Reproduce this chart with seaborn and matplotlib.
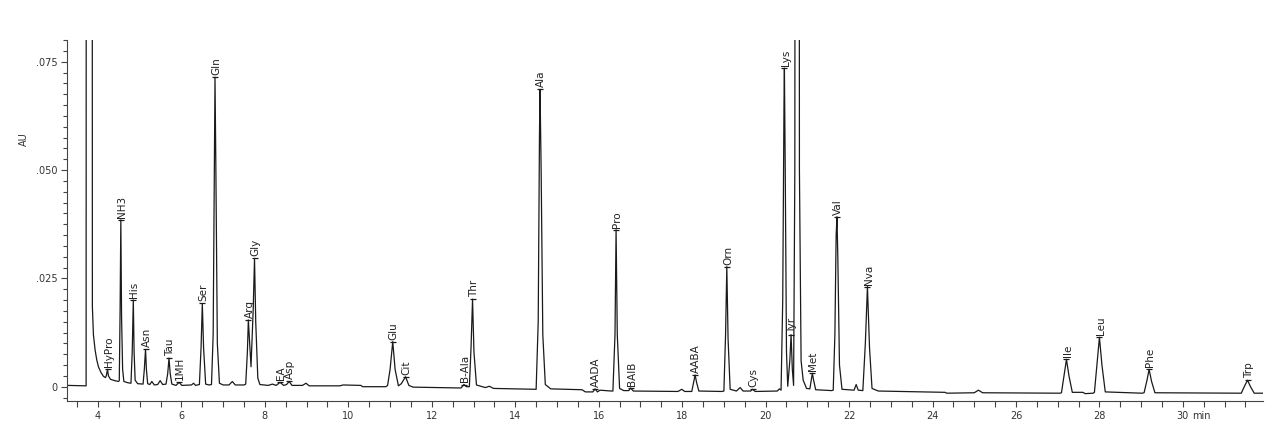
import matplotlib
matplotlib.use("Agg")
import matplotlib.pyplot as plt
import seaborn as sns
import pandas as pd
from matplotlib.ticker import MultipleLocator, FuncFormatter

# Chromatogram trace (time in min, absorbance in AU)
time_min = [
    3.26, 3.70, 3.715, 3.725, 3.855, 3.865, 3.89, 3.93, 3.97, 4.01, 4.07, 4.13, 4.18,
    4.20, 4.228, 4.25, 4.30, 4.40, 4.49,
    4.51, 4.53, 4.547, 4.565, 4.59, 4.62, 4.72,
    4.79, 4.82, 4.846, 4.865, 4.89, 4.95, 5.08,
    5.11, 5.139, 5.16, 5.19, 5.24, 5.29, 5.35, 5.43, 5.49, 5.55, 5.63,
    5.67, 5.702, 5.73, 5.77, 5.87,
    5.942, 6.01, 6.24, 6.29, 6.34, 6.43,
    6.47, 6.50, 6.53, 6.58, 6.66, 6.72,
    6.76, 6.79, 6.804, 6.825, 6.86, 6.91, 7.00, 7.14,
    7.219, 7.29, 7.50,
    7.54, 7.58, 7.603, 7.667,
    7.72, 7.751, 7.78, 7.83, 7.88, 8.08, 8.18, 8.27,
    8.362, 8.45, 8.52,
    8.58, 8.65, 8.90, 8.986, 9.06,
    9.80, 9.87, 10.30, 10.34, 10.90,
    10.94, 11.00, 11.064, 11.12, 11.20, 11.27,
    11.37, 11.45, 11.55, 12.70,
    12.77, 12.83,
    12.90, 12.94, 12.976, 13.01, 13.07, 13.28, 13.38, 13.48, 14.40,
    14.50, 14.55, 14.58, 14.594, 14.62, 14.66, 14.72, 14.85, 15.60, 15.68, 15.86,
    15.913, 15.97, 16.03, 16.30,
    16.34, 16.39, 16.416, 16.445, 16.50, 16.60,
    16.72, 16.764, 16.83, 17.90, 17.99, 18.06,
    18.23, 18.28, 18.31, 18.35, 18.40, 18.95,
    19.00, 19.04, 19.07, 19.10, 19.15, 19.30, 19.39, 19.46,
    19.64, 19.69, 19.75, 20.28, 20.33,
    20.37, 20.41, 20.44, 20.45, 20.47, 20.50, 20.53,
    20.58, 20.61, 20.64, 20.67,
    20.70, 20.725, 20.79, 20.81, 20.85, 20.90, 20.98,
    21.06, 21.10, 21.12, 21.15, 21.20, 21.58,
    21.62, 21.66, 21.69, 21.71, 21.73, 21.77, 21.83,
    22.12, 22.17, 22.22,
    22.33, 22.39, 22.44, 22.49, 22.55, 22.70,
    24.30, 24.34, 25.00, 25.10, 25.20, 27.05,
    27.09, 27.16, 27.21, 27.27, 27.35, 27.60, 27.66, 27.85,
    27.88, 27.95, 28.00, 28.06, 28.14, 29.02,
    29.07, 29.14, 29.19, 29.25, 29.33,
    31.40, 31.48, 31.55, 31.62, 31.71, 31.92,
]
signal_au = [
    0.0003, 0.0002, 0.0002, 0.40, 0.40, 0.0185, 0.0120, 0.0085, 0.0062, 0.0046, 0.0033, 0.0024, 0.0021,
    0.0026, 0.0040, 0.0025, 0.0017, 0.0014, 0.0012,
    0.0014, 0.0180, 0.0385, 0.0160, 0.0040, 0.0012, 0.0009,
    0.0008, 0.0080, 0.0200, 0.0080, 0.0015, 0.0007, 0.0006,
    0.0040, 0.0086, 0.0040, 0.0007, 0.0005, 0.0012, 0.0004, 0.0005, 0.0014, 0.0005, 0.0006,
    0.0030, 0.0066, 0.0030, 0.0006, 0.0003,
    0.0010, 0.0003, 0.0004, 0.0008, 0.0003, 0.0005,
    0.0090, 0.0192, 0.0090, 0.0006, 0.0004, 0.0005,
    0.0120, 0.0550, 0.0714, 0.0500, 0.0100, 0.0008, 0.0004, 0.0004,
    0.0012, 0.0004, 0.0004,
    0.0006, 0.0080, 0.0154, 0.0046,
    0.0180, 0.0296, 0.0150, 0.0020, 0.0005, 0.0003, 0.0006, 0.0003,
    0.0010, 0.0003, 0.0005,
    0.0012, 0.0003, 0.0003, 0.0008, 0.0002,
    0.0002, 0.0004, 0.0003, 0.0000, 0.0000,
    0.0003, 0.0040, 0.0104, 0.0040, 0.0002, 0.0007,
    0.0023, 0.0003, -0.0001, -0.0003,
    0.0005, 0.0000,
    0.0000, 0.0090, 0.0202, 0.0080, 0.0004, -0.0002, 0.0001, -0.0004, -0.0006,
    -0.0006, 0.0150, 0.0580, 0.0686, 0.0500, 0.0120, 0.0005, -0.0005, -0.0007, -0.0012, -0.0012,
    -0.0005, -0.0012, -0.0008, -0.0010,
    -0.0010, 0.0120, 0.0362, 0.0120, -0.0004, -0.0009,
    -0.0009, -0.0003, -0.0010, -0.0011, -0.0006, -0.0011,
    -0.0011, 0.0012, 0.0027, 0.0008, -0.0010, -0.0011,
    -0.0010, 0.0120, 0.0277, 0.0110, -0.0006, -0.0010, -0.0002, -0.0010,
    -0.0010, -0.0006, -0.0011, -0.0010, -0.0005,
    -0.0008, 0.0200, 0.0650, 0.0735, 0.0500, 0.0080, 0.0001,
    0.0060, 0.0120, 0.0040, 0.0003,
    0.0500, 0.4000, 0.4000, 0.0500, 0.0060, 0.0015, -0.0004,
    -0.0005, 0.0020, 0.0031, 0.0015, -0.0007, -0.0009,
    -0.0008, 0.0120, 0.0350, 0.0392, 0.0300, 0.0050, -0.0006,
    -0.0008, 0.0005, -0.0008,
    -0.0009, 0.0100, 0.0231, 0.0090, -0.0004, -0.0010,
    -0.0013, -0.0015, -0.0014, -0.0008, -0.0014, -0.0015,
    -0.0014, 0.0030, 0.0063, 0.0025, -0.0013, -0.0013, -0.0016, -0.0015,
    -0.0013, 0.0060, 0.0114, 0.0050, -0.0012, -0.0015,
    -0.0014, 0.0015, 0.0040, 0.0012, -0.0014,
    -0.0015, 0.0002, 0.0015, 0.0000, -0.0015, -0.0015,
]

# Peak labels
peak_names = ["HyPro", "NH3", "His", "Asn", "Tau", "1MH", "Ser", "Gln", "Arg", "Gly",
              "EA", "Asp", "Glu", "Cit", "B-Ala", "Thr", "Ala", "AADA", "Pro", "BAIB",
              "AABA", "Orn", "Cys", "Lys", "Tyr", "Met", "Val", "Nva", "Ile", "Leu",
              "Phe", "Trp"]
peak_times = [4.228, 4.547, 4.846, 5.139, 5.702, 5.942, 6.50, 6.804, 7.603, 7.751,
              8.362, 8.58, 11.064, 11.37, 12.77, 12.976, 14.594, 15.913, 16.416, 16.764,
              18.31, 19.07, 19.69, 20.45, 20.61, 21.12, 21.71, 22.44, 27.21, 28.00,
              29.19, 31.55]
peak_heights = [0.0040, 0.0385, 0.0200, 0.0086, 0.0066, 0.0010, 0.0192, 0.0714, 0.0154, 0.0296,
                0.0010, 0.0012, 0.0104, 0.0023, 0.0005, 0.0202, 0.0686, -0.0005, 0.0362, -0.0003,
                0.0027, 0.0277, -0.0006, 0.0735, 0.0120, 0.0031, 0.0392, 0.0231, 0.0063, 0.0114,
                0.0040, 0.0015]

y_ticks = [0.0, 0.025, 0.050, 0.075]
y_tick_labels = ["0", ".025", ".050", ".075"]

trace = pd.DataFrame({"time": time_min, "au": signal_au})

sns.set_theme(style="ticks")
plt.rcParams["font.family"] = ["DejaVu Sans"]

fig = plt.figure(figsize=(12.8, 4.44), dpi=100)
ax = fig.add_axes([67 / 1280, 1 - 401 / 444, (1263 - 67) / 1280, (401 - 40) / 444])

ink = "#1a1a1a"
sns.lineplot(data=trace, x="time", y="au", ax=ax, color=ink, linewidth=0.9,
             estimator=None, sort=False)

# apex markers and labels
ax.plot(peak_times, peak_heights, linestyle="none", marker="_", markersize=5,
        markeredgewidth=0.9, color=ink)
for name, t, h in zip(peak_names, peak_times, peak_heights):
    ax.annotate(name, xy=(t, h), xytext=(0.8, 1.5), textcoords="offset points",
                rotation=90, ha="center", va="bottom", fontsize=7.5, color="#222222")

ax.set_xlim(3.257, 31.92)
ax.set_ylim(-0.0033, 0.0800)

ax.xaxis.set_major_locator(MultipleLocator(2))
ax.xaxis.set_minor_locator(MultipleLocator(0.5))
ax.xaxis.set_major_formatter(FuncFormatter(lambda v, p: f"{v:g}"))
ax.set_yticks(y_ticks, labels=y_tick_labels)
ax.yaxis.set_minor_locator(MultipleLocator(0.0025))

ax.tick_params(axis="both", which="both", direction="out", color="#444444",
               width=0.8, labelsize=7, labelcolor="#333333")
ax.tick_params(axis="x", which="both", length=4.5, pad=3)
ax.tick_params(axis="y", which="major", length=4.5, pad=2)
ax.tick_params(axis="y", which="minor", length=3)

ax.annotate("min", xy=(30, 0), xycoords=("data", "axes fraction"),
            xytext=(7, -7.5), textcoords="offset points", ha="left", va="top",
            fontsize=7, color="#333333")

ax.set_xlabel("")
ax.set_ylabel("AU", fontsize=7, color="#333333")
ax.yaxis.set_label_coords(-0.032, 0.726)

sns.despine(ax=ax)
for side in ["left", "bottom"]:
    ax.spines[side].set_color("#444444")
    ax.spines[side].set_linewidth(0.8)

fig.savefig("out.png", dpi=100, facecolor="white")
